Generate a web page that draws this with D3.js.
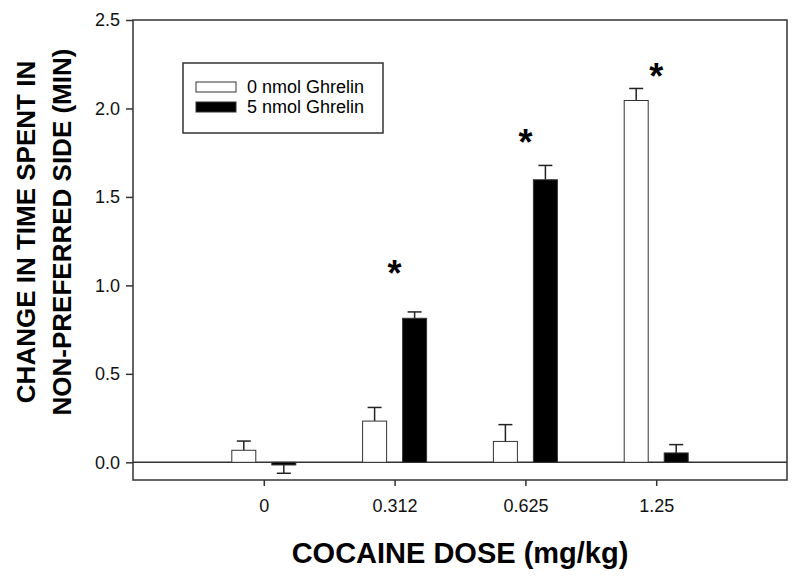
<!DOCTYPE html>
<html>
<head>
<meta charset="utf-8">
<script src="https://cdn.jsdelivr.net/npm/d3@7"></script>
<style>
    body { margin: 0; background: #fff; }
    svg { font-family: Arial, "Liberation Sans", sans-serif; }
</style>
</head>
<body>
<svg width="800" height="576"></svg>
<script>
// cocaine doses (mg/kg)
var doses = ["0", "0.312", "0.625", "1.25"];
var groups = ["0 nmol Ghrelin", "5 nmol Ghrelin"];
var groupFill = ["#fff", "#000"];

// mean change in time (min) and SEM, one array per group
var vehicleMean = [0.068, 0.233, 0.118, 2.045];
var vehicleSem = [0.052, 0.077, 0.095, 0.068];
var ghrelinMean = [-0.015, 0.814, 1.597, 0.053];
var ghrelinSem = [0.047, 0.036, 0.081, 0.047];

// significance stars: dose and height (centre of the star)
var starDoses = ["0.312", "0.625", "1.25"];
var starY = [1.11, 1.85, 2.22];

var yTicks = [0, 0.5, 1.0, 1.5, 2.0, 2.5];

var svg = d3.select("svg");
var margin = {top: 20, right: 13, bottom: 96, left: 133};
var width = 800 - margin.left - margin.right,
    height = 576 - margin.top - margin.bottom;

var g = svg.append("g")
    .attr("transform", "translate(" + margin.left + "," + margin.top + ")");

var x = d3.scalePoint().domain(doses).range([0, width]).padding(1);
var y = d3.scaleLinear().domain([-0.1, 2.5]).range([height, 0]);

var barWidth = 24, barOffset = 20;

var series = [
    {mean: vehicleMean, sem: vehicleSem, side: -1},
    {mean: ghrelinMean, sem: ghrelinSem, side: 1}
];

// zero line
g.append("line")
    .attr("x1", 0).attr("x2", width)
    .attr("y1", y(0)).attr("y2", y(0))
    .attr("stroke", "#333").attr("stroke-width", 1.5);

series.forEach(function(s, si) {
    var data = doses.map(function(d, i) {
        return {dose: d, mean: s.mean[i], sem: s.sem[i]};
    });
    var cx = function(d) { return x(d.dose) + s.side * barOffset; };
    var tip = function(d) { return y(d.mean + (d.mean < 0 ? -d.sem : d.sem)); };

    // error bars go away from zero
    var eb = g.append("g").selectAll("g")
        .data(data)
        .enter().append("g");
    eb.append("line")
        .attr("x1", cx).attr("x2", cx)
        .attr("y1", function(d) { return y(d.mean); })
        .attr("y2", tip)
        .attr("stroke", "#222").attr("stroke-width", 1.5);
    eb.append("line")
        .attr("x1", function(d) { return cx(d) - 7; })
        .attr("x2", function(d) { return cx(d) + 7; })
        .attr("y1", tip)
        .attr("y2", tip)
        .attr("stroke", "#222").attr("stroke-width", 1.5);

    g.append("g").selectAll("rect")
        .data(data)
        .enter().append("rect")
        .attr("x", function(d) { return cx(d) - barWidth / 2; })
        .attr("width", barWidth)
        .attr("y", function(d) { return y(Math.max(0, d.mean)); })
        .attr("height", function(d) { return Math.abs(y(d.mean) - y(0)); })
        .attr("fill", groupFill[si])
        .attr("stroke", "#333")
        .attr("stroke-width", 1);
});

// stars
g.append("g").selectAll("text")
    .data(starDoses)
    .enter().append("text")
    .attr("x", function(d) { return x(d); })
    .attr("y", function(d, i) { return y(starY[i]); })
    .attr("dy", "0.55em")
    .attr("text-anchor", "middle")
    .attr("font-size", 36)
    .attr("font-weight", "bold")
    .text("*");

// frame
g.append("rect")
    .attr("width", width).attr("height", height)
    .attr("fill", "none")
    .attr("stroke", "#333").attr("stroke-width", 1.5);

// axes
var yAxis = g.append("g")
    .call(d3.axisLeft(y).tickValues(yTicks).tickFormat(d3.format(".1f")).tickSize(7).tickPadding(6));
var xAxis = g.append("g")
    .attr("transform", "translate(0," + height + ")")
    .call(d3.axisBottom(x).tickSize(6).tickPadding(13));
[xAxis, yAxis].forEach(function(a) {
    a.attr("font-size", 18).attr("font-family", null);
    a.select(".domain").remove();
    a.selectAll("line").attr("stroke", "#333").attr("stroke-width", 1.5);
    a.selectAll("text").attr("fill", "#111");
});

// axis titles
svg.append("text")
    .attr("x", margin.left + width / 2)
    .attr("y", 563)
    .attr("text-anchor", "middle")
    .attr("font-size", 29)
    .attr("font-weight", "bold")
    .text("COCAINE DOSE (mg/kg)");

var yTitle = svg.append("text")
    .attr("transform", "translate(0,232) rotate(-90)")
    .attr("text-anchor", "middle")
    .attr("font-size", 26)
    .attr("font-weight", "bold");
yTitle.append("tspan").attr("x", 0).attr("y", 35).text("CHANGE IN TIME SPENT IN");
yTitle.append("tspan").attr("x", 0).attr("y", 71).text("NON-PREFERRED SIDE (MIN)");

// legend
var legend = svg.append("g").attr("transform", "translate(183,63)");
legend.append("rect")
    .attr("width", 200).attr("height", 70)
    .attr("fill", "#fff").attr("stroke", "#333").attr("stroke-width", 1.5);
var item = legend.selectAll("g.item")
    .data(groups)
    .enter().append("g")
    .attr("class", "item")
    .attr("transform", function(d, i) { return "translate(13," + (19 + i * 20) + ")"; });
item.append("rect")
    .attr("width", 40).attr("height", 10)
    .attr("fill", function(d, i) { return groupFill[i]; })
    .attr("stroke", "#333");
item.append("text")
    .attr("x", 51).attr("y", 11)
    .attr("font-size", 18)
    .text(function(d) { return d; });
</script>
</body>
</html>
